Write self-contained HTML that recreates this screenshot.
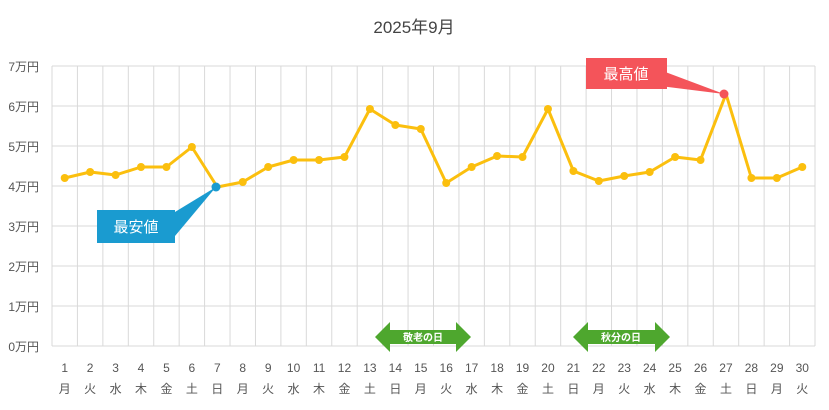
<!DOCTYPE html><html><head><meta charset="utf-8"><style>body{margin:0;background:#fff}svg{display:block;font-family:"Liberation Sans","Noto Sans CJK JP",sans-serif}</style></head><body>
<svg width="829" height="410" xmlns="http://www.w3.org/2000/svg">
<text x="414" y="33" text-anchor="middle" font-size="17" fill="#444">2025年9月</text>
<g id="g" stroke="#d9d9d9" stroke-width="1"></g>
<g id="yl" font-size="12" fill="#555" text-anchor="end"></g>
<g id="xl" font-size="12" fill="#555" text-anchor="middle"></g>
<polygon points="375,337 390,322 390,330 456,330 456,322 471,337 456,352 456,344 390,344 390,352" fill="#4ea72e"/>
<text x="423" y="341" text-anchor="middle" font-size="10" font-weight="bold" fill="#fff">敬老の日</text>
<polygon points="573,337 588,322 588,330 655,330 655,322 670,337 655,352 655,344 588,344 588,352" fill="#4ea72e"/>
<text x="621" y="341" text-anchor="middle" font-size="10" font-weight="bold" fill="#fff">秋分の日</text>
<polyline id="ln" fill="none" stroke="#fbbf0e" stroke-width="3" stroke-linejoin="round"/>
<g id="pts" fill="#fbbf0e"></g>
<polygon points="170,215 216,187 175,236" fill="#1a9bd0"/>
<rect x="97" y="210" width="78" height="33" fill="#1a9bd0"/>
<text x="136" y="232" text-anchor="middle" font-size="15" fill="#fff">最安値</text>
<polygon points="660,70 724,94 660,86" fill="#f4545a"/>
<rect x="586" y="58" width="81" height="31" fill="#f4545a"/>
<text x="626" y="79" text-anchor="middle" font-size="15" fill="#fff">最高値</text>
<circle cx="216" cy="187" r="4.5" fill="#1a9bd0"/>
<circle cx="724" cy="94" r="4.5" fill="#f4545a"/>
<script>
var ns="http://www.w3.org/2000/svg",g=document.getElementById('g'),L=52,R=815,T=66,B=346,w=(R-L)/30;
function el(p,t,a,txt){var e=document.createElementNS(ns,t);for(var k in a)e.setAttribute(k,a[k]);if(txt)e.textContent=txt;p.appendChild(e);return e}
for(var i=0;i<=7;i++){var y=T+i*40;el(g,'line',{x1:L,x2:R,y1:y,y2:y});el(document.getElementById('yl'),'text',{x:39,y:y+5},(7-i)+'万円')}
for(var i=0;i<=30;i++){var x=L+i*w;el(g,'line',{x1:x,x2:x,y1:T,y2:B})}
var ys=[178,172,175,167,167,147,187,182,167,160,160,157,109,125,129,183,167,156,157,109,171,181,176,172,157,160,94,178,178,167];
var wd="月火水木金土日";var pts=[];
for(var i=0;i<30;i++){var x=L+w*(i+.5);pts.push(x.toFixed(1)+','+ys[i]);
el(document.getElementById('xl'),'text',{x:x,y:372},String(i+1));
el(document.getElementById('xl'),'text',{x:x,y:393},wd[i%7]);
if(i!=6&&i!=26)el(document.getElementById('pts'),'circle',{cx:x,cy:ys[i],r:4});}
document.getElementById('ln').setAttribute('points',pts.join(' '));
</script>
</svg></body></html>
